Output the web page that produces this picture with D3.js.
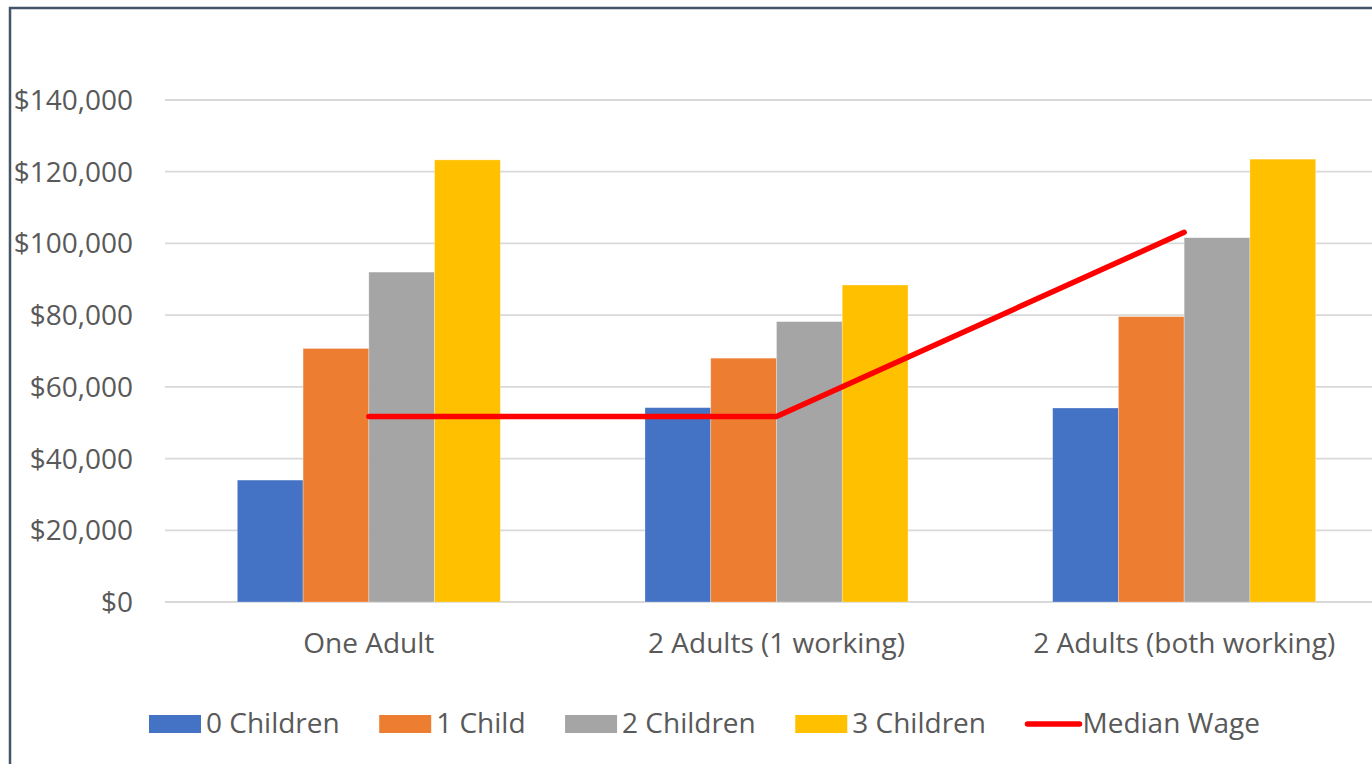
<!DOCTYPE html>
<html>
<head>
<meta charset="utf-8">
<script src="https://cdn.jsdelivr.net/npm/d3@7"></script>
<style>
  html, body { margin: 0; padding: 0; background: #fff; overflow: hidden; }
  svg { display: block; }
  text { font-family: "Open Sans", "Noto Sans", sans-serif; fill: #595959; }
</style>
</head>
<body>
<svg id="chart" width="1372" height="764"></svg>
<script>
// ---- Data ----
const categories = ["One Adult", "2 Adults (1 working)", "2 Adults (both working)"];
const seriesNames = ["0 Children", "1 Child", "2 Children", "3 Children"];
const children0 = [34000, 54200, 54100];
const child1 = [70700, 68000, 79600];
const children2 = [92000, 78200, 101600];
const children3 = [123300, 88400, 123500];
const medianWage = [51700, 51700, 103100];
const lineName = "Median Wage";
const yTicks = [0, 20000, 40000, 60000, 80000, 100000, 120000, 140000];
const seriesColors = ["#4472C4", "#ED7D31", "#A5A5A5", "#FFC000"];
const lineColor = "#FF0000";

const seriesValues = [children0, child1, children2, children3];

// ---- Layout ----
const svg = d3.select("#chart");
const plotLeft = 165, plotRight = 1388, plotTop = 100, plotBottom = 602;

// chart border (extends past right/bottom edges as in reference)
svg.append("rect")
  .attr("x", 10).attr("y", 8)
  .attr("width", 1420).attr("height", 820)
  .attr("fill", "#fff")
  .attr("stroke", "#44546A")
  .attr("stroke-width", 2.5);

const y = d3.scaleLinear().domain([0, 140000]).range([plotBottom, plotTop]);
const x0 = d3.scaleBand().domain(categories).range([plotLeft, plotRight]).padding(0);
const x1 = d3.scaleBand().domain(seriesNames).range([0, x0.bandwidth()])
  .paddingInner(0).paddingOuter(1.1);

// gridlines
svg.append("g").selectAll("line").data(yTicks).join("line")
  .attr("x1", plotLeft).attr("x2", 1400)
  .attr("y1", d => y(d)).attr("y2", d => y(d))
  .attr("stroke", "#D9D9D9").attr("stroke-width", 1.8);

// y axis labels
const fmt = d3.format("$,.0f");
svg.append("g").selectAll("text").data(yTicks).join("text")
  .attr("x", 133).attr("y", d => y(d) + 10)
  .attr("text-anchor", "end")
  .attr("font-size", 28)
  .text(d => fmt(d));

// bars
const groups = svg.append("g").selectAll("g").data(categories).join("g")
  .attr("transform", d => `translate(${x0(d)},0)`);
groups.selectAll("rect")
  .data((c, ci) => seriesNames.map((s, si) => ({ s, si, v: seriesValues[si][ci] })))
  .join("rect")
  .attr("x", d => x1(d.s))
  .attr("width", x1.bandwidth())
  .attr("y", d => y(d.v))
  .attr("height", d => y(0) - y(d.v))
  .attr("fill", d => seriesColors[d.si])
  .attr("stroke", "rgba(255,255,255,0.35)")
  .attr("stroke-width", 0.8);

// category labels
svg.append("g").selectAll("text").data(categories).join("text")
  .attr("x", d => x0(d) + x0.bandwidth() / 2)
  .attr("y", 653)
  .attr("text-anchor", "middle")
  .attr("font-size", 28)
  .text(d => d);

// median wage line
const line = d3.line()
  .x((d, i) => x0(categories[i]) + x0.bandwidth() / 2)
  .y(d => y(d));
svg.append("path")
  .datum(medianWage)
  .attr("d", line)
  .attr("fill", "none")
  .attr("stroke", lineColor)
  .attr("stroke-width", 5.5)
  .attr("stroke-linecap", "round")
  .attr("stroke-linejoin", "round");

// legend
const legend = svg.append("g");
let lx = 149;
const legendY = 724;
const items = seriesNames.map((s, i) => ({ name: s, color: seriesColors[i], type: "rect" }))
  .concat([{ name: lineName, color: lineColor, type: "line" }]);
items.forEach(it => {
  if (it.type === "rect") {
    legend.append("rect")
      .attr("x", lx).attr("y", legendY - 9)
      .attr("width", 52).attr("height", 18)
      .attr("fill", it.color);
  } else {
    legend.append("line")
      .attr("x1", lx + 2).attr("x2", lx + 54)
      .attr("y1", legendY).attr("y2", legendY)
      .attr("stroke", it.color).attr("stroke-width", 5.5)
      .attr("stroke-linecap", "round");
  }
  const t = legend.append("text")
    .attr("x", lx + 57).attr("y", legendY + 9)
    .attr("font-size", 28)
    .text(it.name);
  lx += 57 + t.node().getComputedTextLength() + 39.5;
});
</script>
</body>
</html>
